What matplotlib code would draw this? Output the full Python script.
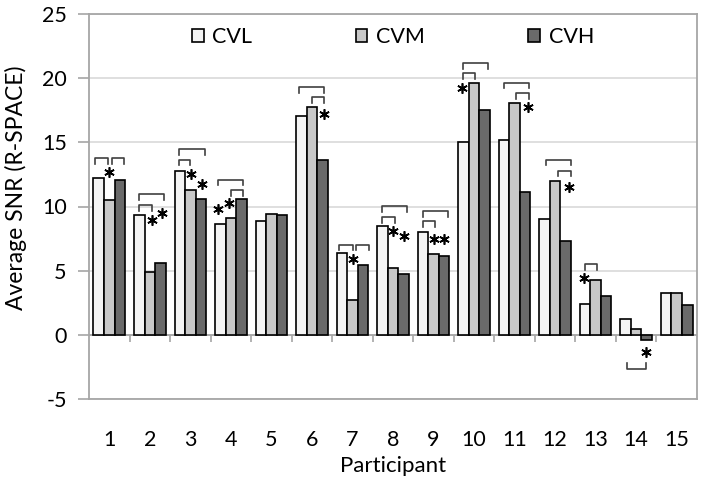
import matplotlib
matplotlib.use("Agg")
import matplotlib.pyplot as plt
import numpy as np

participants = [str(i) for i in range(1, 16)]
cvl = [12.2, 9.3, 12.8, 8.6, 8.85, 17.05, 6.4, 8.5, 8.0, 15.05, 15.15, 9.05, 2.4, 1.22, 3.23]
cvm = [10.5, 4.87, 11.3, 9.1, 9.4, 17.75, 2.75, 5.23, 6.27, 19.6, 18.1, 12.0, 4.27, 0.42, 3.23]
cvh = [12.1, 5.6, 10.6, 10.6, 9.3, 13.65, 5.45, 4.74, 6.15, 17.5, 11.15, 7.3, 3.0, -0.38, 2.3]
series_names = ["CVL", "CVM", "CVH"]
colors = ["#f4f4f4", "#c8c8c8", "#6a6a6a"]

# significance brackets: (participant index 0-based, left offset, right offset, y level, direction)
brackets = [
    (0, -0.35, -0.04, 13.8, 1), (0, 0.06, 0.36, 13.8, 1),
    (1, -0.26, 0.36, 10.94, 1), (1, -0.26, 0.05, 10.08, 1),
    (2, -0.27, 0.36, 14.5, 1), (2, -0.27, -0.01, 13.65, 1),
    (3, -0.31, 0.31, 12.1, 1), (3, 0.0, 0.31, 11.3, 1),
    (5, -0.32, 0.31, 19.3, 1), (5, 0.0, 0.31, 18.5, 1),
    (6, -0.32, 0.01, 7.03, 1), (6, 0.08, 0.40, 7.03, 1),
    (7, -0.27, 0.34, 10.05, 1), (7, -0.27, 0.04, 9.2, 1),
    (8, -0.26, 0.35, 9.63, 1), (8, -0.26, 0.04, 8.85, 1),
    (9, -0.27, 0.34, 21.2, 1), (9, -0.27, 0.03, 20.37, 1),
    (10, -0.27, 0.35, 19.66, 1), (10, 0.03, 0.35, 18.85, 1),
    (11, -0.22, 0.39, 13.65, 1), (11, 0.07, 0.39, 12.8, 1),
    (12, -0.27, 0.03, 5.52, 1),
    (13, -0.22, 0.24, -2.63, -1),
]
# asterisks: (participant index, offset, y)
stars = [
    (0, 0.0, 12.7),
    (1, 0.05, 8.96), (1, 0.31, 9.48),
    (2, 0.01, 12.55), (2, 0.28, 11.77),
    (3, -0.31, 9.77), (3, -0.04, 10.3),
    (5, 0.31, 17.2),
    (6, 0.01, 5.9),
    (7, 0.01, 8.07), (7, 0.28, 7.68),
    (8, 0.0, 7.47), (8, 0.27, 7.47),
    (9, -0.30, 19.2),
    (10, 0.32, 17.76),
    (11, 0.33, 11.5),
    (12, -0.30, 4.4),
    (13, 0.24, -1.3),
]

plt.rcParams['font.family'] = ['Lato', 'DejaVu Sans']
plt.rcParams['axes.unicode_minus'] = False
fig = plt.figure(figsize=(7.04, 4.79), dpi=100)
ax = fig.add_axes([89/704, 1 - 399/479, (697-89)/704, (399-14)/479])

x = np.arange(len(participants))
w = 0.26
for i, (vals, name, c) in enumerate(zip([cvl, cvm, cvh], series_names, colors)):
    ax.bar(x + (i - 1) * w, vals, w, color=c, edgecolor="black", linewidth=1.2,
           label=name, zorder=3)

ax.set_xlim(-0.5, len(participants) - 0.5)
ax.set_ylim(-5, 25)
ax.set_yticks(np.arange(-5, 26, 5))
ax.yaxis.grid(True, color="#d9d9d9", linewidth=1.2, zorder=0)
ax.set_axisbelow(True)
for s in ax.spines.values():
    s.set_color("#a6a6a6")
    s.set_linewidth(1.3)
ax.tick_params(axis="y", length=8, width=1.2, color="#a6a6a6", labelsize=15.5, pad=8)
ax.set_xticks(x)
ax.set_xticklabels(participants)
ax.tick_params(axis="x", length=0, labelsize=15.5, pad=22)

# category axis at zero with boundary ticks
ax.axhline(0, color="#a6a6a6", linewidth=1.3, zorder=2)
ax.vlines(np.arange(0.5, len(participants) - 0.5, 1), -0.55, 0, color="#a6a6a6",
          linewidth=1.2, zorder=2)

# brackets
for p, a, b, yv, d in brackets:
    h = 0.45 * d
    ax.plot([p + a, p + a, p + b, p + b], [yv - h, yv, yv, yv - h],
            color="#404040", linewidth=1.2, zorder=4)
for p, o, yv in stars:
    ax.plot(p + o, yv, marker=(6, 2, 0), markersize=7.5, markeredgewidth=1.2,
            color="black", linestyle="none", zorder=5)

ax.set_xlabel("Participant", fontsize=16, labelpad=5)
ax.set_ylabel("Average SNR (R-SPACE)", fontsize=16.5)
ax.yaxis.set_label_coords(-0.102, 0.549)

ax.legend(ncol=3, loc="center", bbox_to_anchor=(0.5, 0.94), frameon=False,
          fontsize=15.5, handlelength=0.55, handleheight=0.55, handletextpad=0.4,
          columnspacing=4.8, borderaxespad=0)

fig.savefig("out.png", dpi=100)
